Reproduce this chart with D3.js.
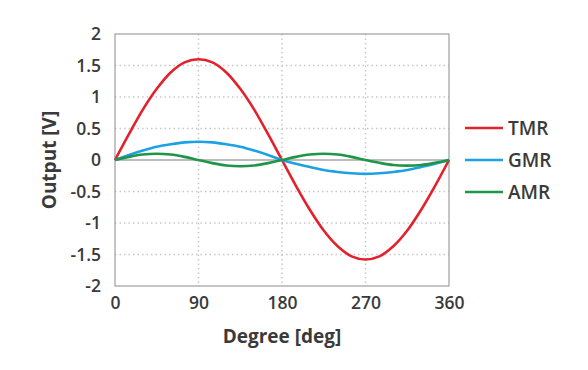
<!DOCTYPE html>
<html>
<head>
<meta charset="utf-8">
<script src="https://cdn.jsdelivr.net/npm/d3@7"></script>
<style>
  body { margin: 0; background: #fff; }
  text { font-family: "Open Sans", Lato, sans-serif; fill: #3a3a3a; }
</style>
</head>
<body>
<svg id="chart"></svg>
<script>
const width = 588;
const height = 370;
const margin = { top: 34, right: 139, bottom: 84, left: 115 };

// degrees sampled every 15
const degrees = [0, 15, 30, 45, 60, 75, 90, 105, 120, 135, 150, 165, 180,
  195, 210, 225, 240, 255, 270, 285, 300, 315, 330, 345, 360];
const tmr = [0, 0.41, 0.80, 1.13, 1.39, 1.55, 1.60, 1.55, 1.39, 1.13, 0.80, 0.41, 0,
  -0.41, -0.79, -1.12, -1.37, -1.53, -1.58, -1.53, -1.37, -1.12, -0.79, -0.41, 0];
const gmr = [0, 0.08, 0.15, 0.21, 0.25, 0.28, 0.29, 0.28, 0.25, 0.21, 0.15, 0.08, 0,
  -0.06, -0.11, -0.16, -0.19, -0.21, -0.22, -0.21, -0.19, -0.16, -0.11, -0.06, 0];
const amr = [0, 0.05, 0.087, 0.10, 0.087, 0.05, 0, -0.05, -0.087, -0.10, -0.087, -0.05, 0,
  0.05, 0.087, 0.10, 0.087, 0.05, 0, -0.045, -0.08, -0.09, -0.08, -0.045, 0];

const seriesNames = ["TMR", "GMR", "AMR"];
const seriesColors = ["#e3202b", "#1da1e2", "#1f9548"];
const seriesValues = [tmr, gmr, amr];

const xTicks = [0, 90, 180, 270, 360];
const yTicks = [-2, -1.5, -1, -0.5, 0, 0.5, 1, 1.5, 2];

const svg = d3.select("#chart")
    .attr("width", width)
    .attr("height", height);

const xScale = d3.scaleLinear()
    .domain([0, 360])
    .range([margin.left, width - margin.right]);

const yScale = d3.scaleLinear()
    .domain([-2, 2])
    .range([height - margin.bottom, margin.top]);

// dotted grid
svg.append("g")
    .selectAll("line")
    .data(yTicks.filter(d => d !== 0 && Math.abs(d) !== 2))
    .enter()
    .append("line")
    .attr("x1", xScale(0))
    .attr("x2", xScale(360))
    .attr("y1", d => yScale(d))
    .attr("y2", d => yScale(d))
    .attr("stroke", "#c8c8c8")
    .attr("stroke-width", 1.5)
    .attr("stroke-dasharray", "1.5,3");

svg.append("g")
    .selectAll("line")
    .data([90, 180, 270])
    .enter()
    .append("line")
    .attr("x1", d => xScale(d))
    .attr("x2", d => xScale(d))
    .attr("y1", yScale(2))
    .attr("y2", yScale(-2))
    .attr("stroke", "#c8c8c8")
    .attr("stroke-width", 1.5)
    .attr("stroke-dasharray", "1.5,3");

// zero line
svg.append("line")
    .attr("x1", xScale(0))
    .attr("x2", xScale(360))
    .attr("y1", yScale(0))
    .attr("y2", yScale(0))
    .attr("stroke", "#a6a6a6")
    .attr("stroke-width", 1.3);

// frame
svg.append("rect")
    .attr("x", xScale(0))
    .attr("y", yScale(2))
    .attr("width", xScale(360) - xScale(0))
    .attr("height", yScale(-2) - yScale(2))
    .attr("fill", "none")
    .attr("stroke", "#a6a6a6")
    .attr("stroke-width", 1.3);

// axes (labels only)
const xAxis = d3.axisBottom(xScale).tickValues(xTicks).tickSize(0).tickPadding(11);
const yAxis = d3.axisLeft(yScale).tickValues(yTicks).tickSize(0).tickPadding(14)
    .tickFormat(d3.format(""));

const gx = svg.append("g")
    .attr("transform", `translate(0, ${height - margin.bottom})`)
    .call(xAxis);
const gy = svg.append("g")
    .attr("transform", `translate(${margin.left}, 0)`)
    .call(yAxis);

[gx, gy].forEach(g => {
  g.select(".domain").remove();
  g.selectAll("text")
    .style("font-size", "17.5px")
    .style("font-weight", "600")
    .attr("fill", "#3a3a3a");
});
gy.selectAll("text").text(d => d < 0 ? "-" + Math.abs(d) : d);

// lines
const line = d3.line()
    .x((d, i) => xScale(degrees[i]))
    .y(d => yScale(d))
    .curve(d3.curveCatmullRom);

seriesValues.forEach((vals, k) => {
  svg.append("path")
    .datum(vals)
    .attr("fill", "none")
    .attr("stroke", seriesColors[k])
    .attr("stroke-width", 2.6)
    .attr("d", line);
});

// axis titles
svg.append("text")
    .attr("x", xScale(180))
    .attr("y", 343)
    .attr("text-anchor", "middle")
    .style("font-size", "19px")
    .style("font-weight", "700")
    .text("Degree [deg]");

svg.append("text")
    .attr("transform", `translate(56, ${yScale(0)}) rotate(-90)`)
    .attr("text-anchor", "middle")
    .style("font-size", "19px")
    .style("font-weight", "700")
    .text("Output [V]");

// legend
const legend = svg.append("g")
    .attr("transform", "translate(465, 128)");

seriesNames.forEach((name, i) => {
  const row = legend.append("g").attr("transform", `translate(0, ${i * 32})`);
  row.append("line")
    .attr("x1", 0).attr("x2", 38)
    .attr("y1", 0).attr("y2", 0)
    .attr("stroke", seriesColors[i])
    .attr("stroke-width", 2.6);
  row.append("text")
    .attr("x", 43)
    .attr("y", 0)
    .attr("dy", "0.36em")
    .style("font-size", "19px")
    .style("font-weight", "600")
    .text(name);
});
</script>
</body>
</html>
